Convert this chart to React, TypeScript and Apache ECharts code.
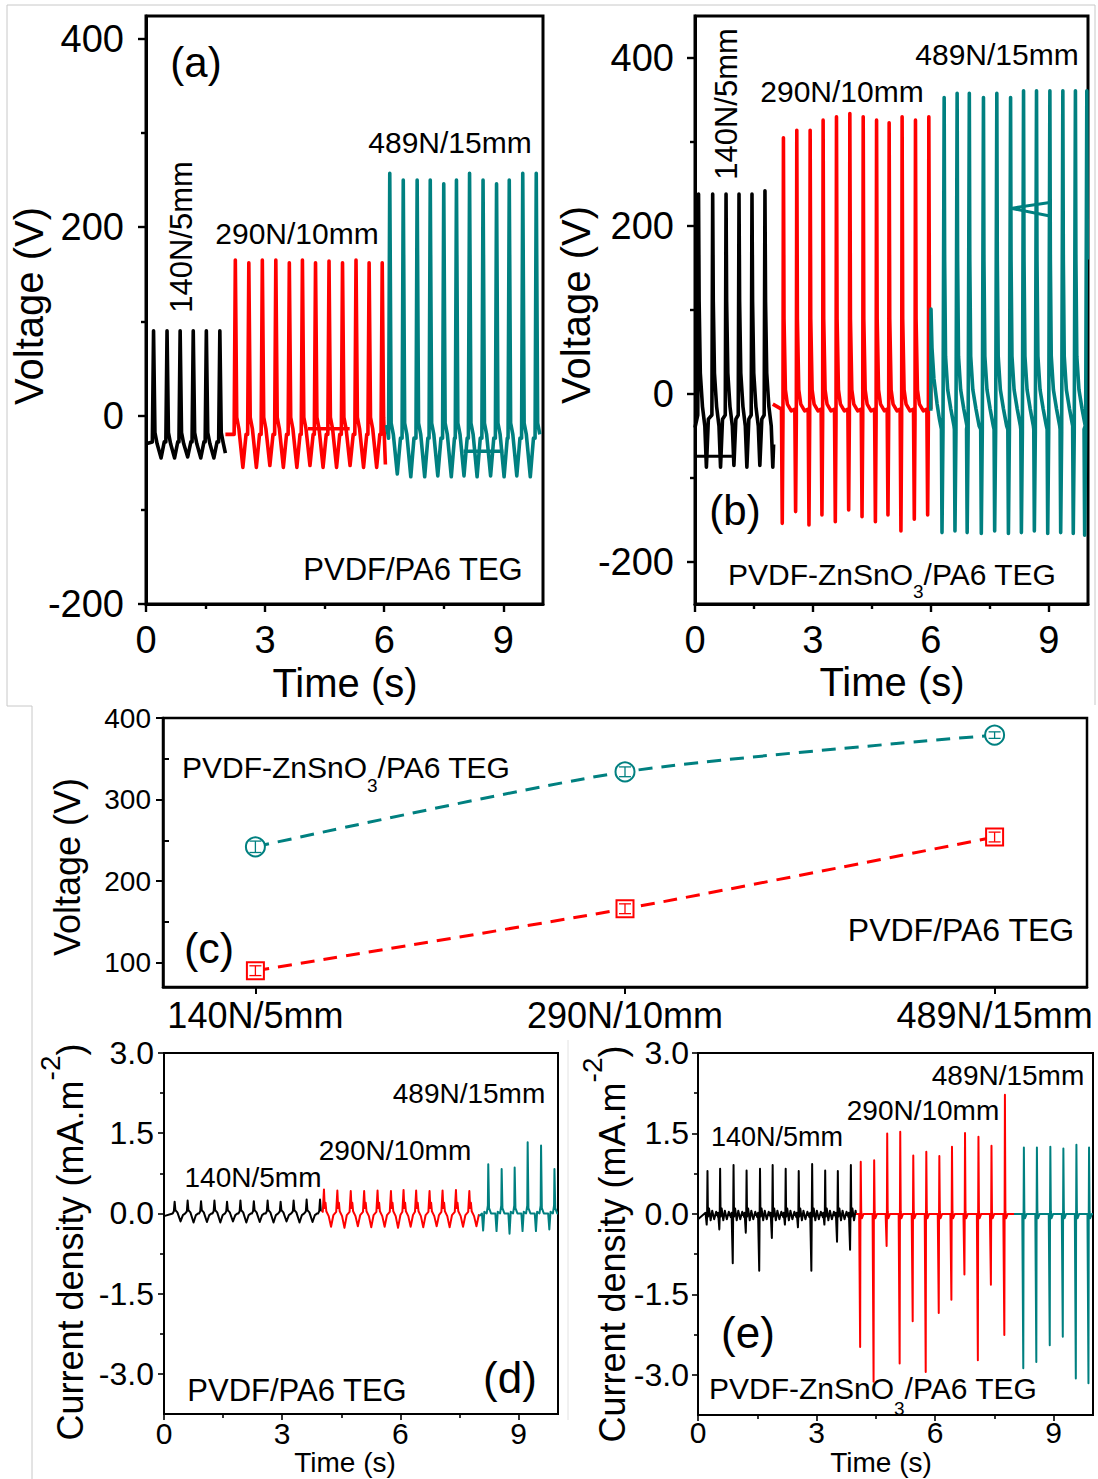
import React, { useEffect, useRef } from "react";
import * as echarts from "echarts";

type Pt = [number, number];

const FONT = '"Liberation Sans", Arial, Helvetica, sans-serif';
const BLACK = "#000000";
const RED = "#ff0000";
const TEAL = "#008080";

// ---------------- (a) PVDF/PA6 TEG, voltage ----------------
const aBlackPeakT = [0.19, 0.53, 0.86, 1.19, 1.52, 1.86];
const aBlackPeakV = [90, 90, 90, 90, 90, 90];
const aBlackValleyV = [-45, -45, -44, -45, -45, -44];
const aBlackBase = -28;
const aBlackKnee = -18;
const aRedPeakT = [2.25, 2.59, 2.93, 3.27, 3.61, 3.94, 4.27, 4.61, 4.95, 5.29, 5.62, 5.95];
const aRedPeakV = [165, 162, 165, 165, 162, 165, 162, 164, 162, 165, 162, 162];
const aRedValleyV = [-55, -55, -53, -55, -55, -53, -55, -55, -53, -55, -55, -53];
const aRedBase = -20;
const aRedKnee = -2;
const aTealPeakT = [6.14, 6.48, 6.83, 7.16, 7.5, 7.82, 8.15, 8.49, 8.83, 9.15, 9.49, 9.83];
const aTealPeakV = [257, 250, 250, 250, 246, 250, 257, 250, 246, 250, 257, 257];
const aTealValleyV = [-62, -65, -65, -64, -65, -64, -65, -64, -65, -64, -65, -64];
const aTealBase = -24;
const aTealKnee = -8;
const aRedStray: Pt[] = [[4.08, -14], [5.13, -14]];
const aTealStray: Pt[] = [[8.0, -38], [9.0, -38]];

// ---------------- (b) PVDF-ZnSnO3/PA6 TEG, voltage ----------------
const bBlackPeakT = [0.09, 0.45, 0.79, 1.12, 1.45, 1.78];
const bBlackPeakV = [238, 238, 238, 238, 238, 242];
const bBlackValleyV = [-87, -87, -85, -87, -85, -87];
const bRedPeakT = [2.25, 2.59, 2.93, 3.26, 3.6, 3.94, 4.28, 4.62, 4.94, 5.27, 5.61, 5.95];
const bRedPeakV = [305, 314, 314, 326, 330, 334, 330, 326, 323, 330, 326, 330];
const bRedValleyV = [-154, -140, -156, -144, -152, -138, -146, -152, -144, -163, -149, -144];
const bTealPeakT = [6.34, 6.67, 6.98, 7.34, 7.68, 8.03, 8.36, 8.69, 9.03, 9.36, 9.68, 9.97];
const bTealPeakV = [353, 358, 358, 353, 358, 353, 361, 361, 361, 361, 361, 361];
const bTealValleyV = [-165, -163, -165, -166, -163, -166, -165, -163, -166, -165, -166, -168];
const bTealOnset: Pt[] = [[6.0, -20], [6.005, 101], [6.03, 55], [6.08, 18], [6.16, -12], [6.22, -30]];
const bBlackStray: Pt[] = [[0.05, -74], [0.94, -74]];
const bTealStray: Pt[] = [[9.03, 228], [8.04, 221], [9.03, 212]];

// ---------------- (c) peak voltage vs. force/displacement ----------------
const cCategories = ["140N/5mm", "290N/10mm", "489N/15mm"];
const cZnSnO3 = [242, 334, 379];
const cZnSnO3Err = [7, 6, 4];
const cPVDF = [90, 166, 254];
const cPVDFErr = [6, 6, 6];

// ---------------- (d) PVDF/PA6 TEG, current density ----------------
const dBlackPeakT = [0.27, 0.6, 0.94, 1.28, 1.6, 1.94, 2.28, 2.63, 2.96, 3.29, 3.62, 3.96];
const dBlackPeakV = [0.22, 0.24, 0.23, 0.24, 0.22, 0.24, 0.23, 0.24, 0.22, 0.24, 0.26, 0.26];
const dBlackValleyV = [-0.15, -0.17, -0.16, -0.17, -0.15, -0.17, -0.16, -0.17, -0.15, -0.17, -0.16, -0.17];
const dRedPeakT = [4.06, 4.4, 4.74, 5.08, 5.42, 5.76, 6.08, 6.4, 6.74, 7.07, 7.41, 7.75];
const dRedPeakV = [0.45, 0.43, 0.42, 0.42, 0.43, 0.42, 0.44, 0.43, 0.42, 0.43, 0.44, 0.42];
const dRedValleyV = [-0.25, -0.27, -0.24, -0.26, -0.25, -0.27, -0.25, -0.26, -0.24, -0.26, -0.25, -0.24];
const dTealPeakT = [8.23, 8.57, 8.9, 9.23, 9.57, 9.91];
const dTealPeakV = [0.92, 0.83, 0.86, 1.33, 1.27, 0.83];
const dTealValleyV = [-0.32, -0.33, -0.38, -0.33, -0.33, -0.3];

// ---------------- (e) PVDF-ZnSnO3/PA6 TEG, current density ----------------
const eBlackPeakT = [0.24, 0.56, 0.9, 1.23, 1.57, 1.89, 2.22, 2.55, 2.89, 3.22, 3.54, 3.87];
const eBlackPeakV = [0.8, 0.84, 0.91, 0.81, 0.84, 0.91, 0.84, 0.8, 0.93, 0.81, 0.8, 0.91];
const eBlackNegV = [-0.2, -0.29, -0.92, -0.35, -1.06, -0.45, -0.2, -0.25, -1.06, -0.2, -0.52, -0.67];
const eRedPeakT = [4.12, 4.46, 4.79, 5.12, 5.45, 5.78, 6.11, 6.43, 6.76, 7.1, 7.43, 7.77];
const eRedPeakV = [0.97, 1.0, 1.5, 1.53, 1.09, 1.16, 1.08, 1.25, 1.51, 1.44, 1.27, 2.22];
const eRedNegV = [-2.48, -3.13, -0.6, -2.79, -2.0, -2.95, -1.85, -1.6, -1.13, -2.73, -1.32, -2.26];
const eTealPeakT = [8.25, 8.58, 8.92, 9.25, 9.58, 9.9];
const eTealPeakV = [1.24, 1.24, 1.25, 1.22, 1.29, 1.24];
const eTealNegV = [-2.88, -2.76, -2.45, -2.29, -3.07, -3.16];

// ---------------- axis ticks ----------------
const timeMajor = [0, 3, 6, 9];
const timeMinor = [1.5, 4.5, 7.5];
const voltMajor = [-200, 0, 200, 400];
const voltMinor = [-100, 100, 300];
const cVoltMajor = [100, 200, 300, 400];
const cVoltMinor = [150, 250, 350];
const curMajor = [-3, -1.5, 0, 1.5, 3];
const curMinor = [-2.25, -0.75, 0.75, 2.25];

// ---------------- helpers ----------------
function build(start: Pt[], peaksT: number[], cycle: (tp: number, i: number) => Pt[], tEnd: number, end: Pt[]): Pt[] {
  const pts: Pt[] = [...start];
  peaksT.forEach((tp, i) => {
    cycle(tp, i).forEach((p) => {
      if (p[0] <= tEnd) pts.push(p);
    });
  });
  return pts.concat(end);
}

let measureCtx: CanvasRenderingContext2D | null = null;
function textWidth(s: string, size: number): number {
  if (!measureCtx && typeof document !== "undefined") {
    measureCtx = document.createElement("canvas").getContext("2d");
  }
  if (!measureCtx) return s.length * size * 0.55;
  measureCtx.font = `${size}px "Liberation Sans"`;
  return measureCtx.measureText(s).width;
}

type Part = { t: string; size: number; dy: number };
function partsGroup(parts: Part[], x: number, y: number, align: "left" | "center", rotation = 0): any {
  const widths = parts.map((p) => textWidth(p.t, p.size));
  const total = widths.reduce((a, b) => a + b, 0);
  let cx = align === "center" ? -total / 2 : 0;
  const children = parts.map((p, i) => {
    const el = {
      type: "text",
      x: cx,
      y: p.dy,
      style: { text: p.t, font: `${p.size}px ${FONT}`, fill: "#000", align: "left", verticalAlign: "middle" },
    };
    cx += widths[i];
    return el;
  });
  return { type: "group", x, y, rotation, children };
}

function label(text: string, x: number, y: number, size: number, rotation = 0, align = "center"): any {
  return {
    type: "text",
    x,
    y,
    rotation,
    style: { text, font: `${size}px ${FONT}`, fill: "#000", align, verticalAlign: "middle" },
  };
}

type AxisSpec = {
  min: number;
  max: number;
  major: number[];
  minor: number[];
  font: number;
  margin: number;
  majorLen: number;
  minorLen: number;
  minorInside?: boolean;
  width: number;
  fmt?: (v: number) => string;
};

function axisPair(kind: "x" | "y", grid: number, s: AxisSpec): any[] {
  const position = kind === "x" ? "bottom" : "left";
  const common = {
    type: "value",
    gridIndex: grid,
    min: s.min,
    max: s.max,
    position,
    splitLine: { show: false },
    splitArea: { show: false },
    minorTick: { show: false },
  };
  const tickStyle = { color: "#000", width: Math.max(1.5, s.width * 0.8) };
  const major = {
    ...common,
    axisLine: { show: true, onZero: false, lineStyle: { color: "#000", width: s.width } },
    axisTick: { show: true, customValues: s.major, length: s.majorLen, inside: false, lineStyle: tickStyle },
    axisLabel: {
      show: true,
      customValues: s.major,
      fontSize: s.font,
      fontFamily: FONT,
      color: "#000",
      margin: s.margin,
      formatter: (v: number) => (s.fmt ? s.fmt(v) : String(v)),
    },
  };
  const minor = {
    ...common,
    axisLine: { show: false, onZero: false },
    axisTick: { show: true, customValues: s.minor, length: s.minorLen, inside: !!s.minorInside, lineStyle: tickStyle },
    axisLabel: { show: false },
  };
  return [major, minor];
}

function lineSeries(data: Pt[], color: string, width: number, panel: number): any {
  return {
    type: "line",
    xAxisIndex: panel * 2,
    yAxisIndex: panel * 2,
    data,
    showSymbol: false,
    symbol: "none",
    lineStyle: { color, width, join: "round" },
    itemStyle: { color },
    clip: true,
    silent: true,
    z: 2,
  };
}

// ---------------- traces ----------------
function aCycle(P: number[], V: number[], base: number, knee: number) {
  return (tp: number, i: number): Pt[] => [
    [tp - 0.03, base],
    [tp, P[i]],
    [tp + 0.035, knee],
    [tp + 0.09, knee - 12],
    [tp + 0.19, V[i]],
    [tp + 0.27, base],
  ];
}

function buildOption(): any {
  // (a)
  const aBlack = build([[0, -30]], aBlackPeakT, aCycle(aBlackPeakV, aBlackValleyV, aBlackBase, aBlackKnee), 2.0, [[2.0, -40]]);
  const aRed = build([[2.0, -20]], aRedPeakT, aCycle(aRedPeakV, aRedValleyV, aRedBase, aRedKnee), 6.03, [[6.03, -52]]);
  const aTeal = build([[6.06, -10]], aTealPeakT, aCycle(aTealPeakV, aTealValleyV, aTealBase, aTealKnee), 10.0, []);

  // (b)
  const bBlack = build(
    [[0, -40]],
    bBlackPeakT,
    (tp, i) => [
      [tp - 0.02, -25],
      [tp, bBlackPeakV[i]],
      [tp + 0.015, 110],
      [tp + 0.045, 25],
      [tp + 0.1, -15],
      [tp + 0.16, -38],
      [tp + 0.2, bBlackValleyV[i]],
      [tp + 0.25, -30],
    ],
    2.0,
    [[2.0, -60]]
  );
  const bRed = build(
    [[1.98, -12]],
    bRedPeakT,
    (tp, i) => [
      [tp - 0.05, -18],
      [tp - 0.03, bRedValleyV[i]],
      [tp - 0.012, -30],
      [tp, bRedPeakV[i]],
      [tp + 0.015, 90],
      [tp + 0.05, 5],
      [tp + 0.1, -12],
      [tp + 0.2, -20],
    ],
    6.0,
    [[6.0, -18]]
  );
  const bTeal = build(
    bTealOnset,
    bTealPeakT,
    (tp, i) => [
      [tp - 0.07, -42],
      [tp - 0.055, bTealValleyV[i]],
      [tp - 0.03, -45],
      [tp, bTealPeakV[i]],
      [tp + 0.012, 160],
      [tp + 0.035, 45],
      [tp + 0.09, 5],
      [tp + 0.17, -18],
      [tp + 0.25, -38],
    ],
    10.0,
    []
  );

  // (d)
  const dBlack = build(
    [[0, -0.05]],
    dBlackPeakT,
    (tp, i) => [
      [tp - 0.05, 0.0],
      [tp - 0.02, 0.04],
      [tp, dBlackPeakV[i]],
      [tp + 0.02, 0.06],
      [tp + 0.07, 0.02],
      [tp + 0.15, dBlackValleyV[i]],
      [tp + 0.21, -0.03],
      [tp + 0.27, 0.0],
    ],
    4.0,
    [[4.0, 0.05]]
  );
  const dRed = build(
    [[4.0, 0.05]],
    dRedPeakT,
    (tp, i) => [
      [tp - 0.03, 0.03],
      [tp, dRedPeakV[i]],
      [tp + 0.02, 0.1],
      [tp + 0.04, 0.2],
      [tp + 0.06, 0.04],
      [tp + 0.12, -0.05],
      [tp + 0.18, dRedValleyV[i]],
      [tp + 0.24, -0.03],
    ],
    8.0,
    [[8.0, -0.05]]
  );
  const dTeal = build(
    [[8.0, -0.05]],
    dTealPeakT,
    (tp, i) => [
      [tp - 0.16, 0.0],
      [tp - 0.13, dTealValleyV[i]],
      [tp - 0.1, 0.03],
      [tp - 0.04, 0.0],
      [tp - 0.01, 0.15],
      [tp, dTealPeakV[i]],
      [tp + 0.02, 0.1],
      [tp + 0.07, 0.0],
    ],
    10.0,
    [[10.0, 0.0]]
  );

  // (e)
  const eBlack = build(
    [[0, -0.1]],
    eBlackPeakT,
    (tp, i) => [
      [tp - 0.05, 0.02],
      [tp - 0.02, eBlackNegV[i]],
      [tp - 0.01, -0.05],
      [tp, eBlackPeakV[i]],
      [tp + 0.012, -0.05],
      [tp + 0.04, 0.1],
      [tp + 0.08, -0.12],
      [tp + 0.12, 0.06],
      [tp + 0.17, -0.1],
      [tp + 0.22, 0.04],
      [tp + 0.27, -0.06],
    ],
    4.0,
    [[4.0, 0.0]]
  );
  const spikeCycle = (P: number[], N: number[]) => (tp: number, i: number): Pt[] => [
    [tp - 0.04, 0.0],
    [tp - 0.015, N[i]],
    [tp - 0.008, -0.1],
    [tp, P[i]],
    [tp + 0.012, 0.05],
    [tp + 0.03, -0.08],
    [tp + 0.07, 0.0],
  ];
  const eRed = build([[4.0, 0.0]], eRedPeakT, spikeCycle(eRedPeakV, eRedNegV), 8.0, [[8.0, 0.0]]);
  const eTeal = build([[8.0, 0.0]], eTealPeakT, spikeCycle(eTealPeakV, eTealNegV), 10.0, [[10.0, 0.0]]);

  const grids = [
    { left: 146, top: 16, width: 397, height: 588, show: true, borderColor: "#000", borderWidth: 3, backgroundColor: "transparent" },
    { left: 695, top: 16, width: 393, height: 588, show: true, borderColor: "#000", borderWidth: 3, backgroundColor: "transparent" },
    { left: 163, top: 718, width: 924, height: 269, show: true, borderColor: "#000", borderWidth: 2.5, backgroundColor: "transparent" },
    { left: 164, top: 1053, width: 394, height: 361, show: true, borderColor: "#000", borderWidth: 2, backgroundColor: "transparent" },
    { left: 698, top: 1053, width: 395, height: 362, show: true, borderColor: "#000", borderWidth: 2, backgroundColor: "transparent" },
  ];

  const timeAxis = (margin: number, font: number, width: number, majorLen: number, minorLen: number): AxisSpec => ({
    min: 0,
    max: 10,
    major: timeMajor,
    minor: timeMinor,
    font,
    margin,
    majorLen,
    minorLen,
    width,
  });
  const curFmt = (v: number) => v.toFixed(1);

  const xAxis = [
    ...axisPair("x", 0, timeAxis(17, 38, 3, 8, 5)),
    ...axisPair("x", 1, timeAxis(17, 38, 3, 8, 5)),
    ...axisPair("x", 2, {
      min: 0.75,
      max: 3.25,
      major: [1, 2, 3],
      minor: [],
      font: 36,
      margin: 10,
      majorLen: 7,
      minorLen: 0,
      width: 2.5,
      fmt: (v: number) => cCategories[Math.round(v) - 1] || "",
    }),
    ...axisPair("x", 3, timeAxis(4, 30, 2, 6, 4)),
    ...axisPair("x", 4, timeAxis(2, 30, 2, 6, 4)),
  ];
  const yAxis = [
    ...axisPair("y", 0, { min: -200, max: 424, major: voltMajor, minor: voltMinor, font: 38, margin: 22, majorLen: 8, minorLen: 5, width: 3 }),
    ...axisPair("y", 1, { min: -250, max: 450, major: voltMajor, minor: voltMinor, font: 38, margin: 21, majorLen: 8, minorLen: 5, width: 3 }),
    ...axisPair("y", 2, { min: 70, max: 400, major: cVoltMajor, minor: cVoltMinor, font: 28, margin: 12, majorLen: 7, minorLen: 6, minorInside: true, width: 2.5 }),
    ...axisPair("y", 3, { min: -3.75, max: 3.0, major: curMajor, minor: curMinor, font: 32, margin: 10, majorLen: 6, minorLen: 4, width: 2, fmt: curFmt }),
    ...axisPair("y", 4, { min: -3.75, max: 3.0, major: curMajor, minor: curMinor, font: 32, margin: 9, majorLen: 6, minorLen: 4, width: 2, fmt: curFmt }),
  ];

  const errorBars = (vals: number[], errs: number[], color: string): any => ({
    type: "custom",
    xAxisIndex: 4,
    yAxisIndex: 4,
    z: 5,
    silent: true,
    data: vals.map((v, i) => [i + 1, v, errs[i]]),
    renderItem: (_params: any, api: any) => {
      const x = api.value(0);
      const y = api.value(1);
      const e = api.value(2);
      const top = api.coord([x, y + e]);
      const bot = api.coord([x, y - e]);
      const hw = 6;
      const st = { stroke: color, lineWidth: 1.3 };
      return {
        type: "group",
        children: [
          { type: "line", shape: { x1: top[0], y1: top[1], x2: bot[0], y2: bot[1] }, style: st },
          { type: "line", shape: { x1: top[0] - hw, y1: top[1], x2: top[0] + hw, y2: top[1] }, style: st },
          { type: "line", shape: { x1: bot[0] - hw, y1: bot[1], x2: bot[0] + hw, y2: bot[1] }, style: st },
        ],
      };
    },
  });

  const series = [
    lineSeries(aBlack, BLACK, 3.6, 0),
    lineSeries(aRed, RED, 3.6, 0),
    lineSeries(aTeal, TEAL, 3.6, 0),
    lineSeries(aRedStray, RED, 3.5, 0),
    lineSeries(aTealStray, TEAL, 3.5, 0),
    lineSeries(bBlack, BLACK, 3.6, 1),
    lineSeries(bRed, RED, 3.6, 1),
    lineSeries(bTeal, TEAL, 3.6, 1),
    lineSeries(bBlackStray, BLACK, 3, 1),
    lineSeries(bTealStray, TEAL, 3, 1),
    {
      type: "line",
      xAxisIndex: 4,
      yAxisIndex: 4,
      data: cZnSnO3.map((v, i) => [i + 1, v]),
      smooth: 0.25,
      symbol: "emptyCircle",
      symbolSize: 19,
      showSymbol: true,
      lineStyle: { color: TEAL, width: 3, type: [14, 9] },
      itemStyle: { color: TEAL, borderColor: TEAL, borderWidth: 1.5 },
      z: 3,
    },
    {
      type: "line",
      xAxisIndex: 4,
      yAxisIndex: 4,
      data: cPVDF.map((v, i) => [i + 1, v]),
      smooth: 0.25,
      symbol: "emptyRect",
      symbolSize: 17,
      showSymbol: true,
      lineStyle: { color: RED, width: 3, type: [14, 9] },
      itemStyle: { color: RED, borderColor: RED, borderWidth: 1.5 },
      z: 3,
    },
    errorBars(cZnSnO3, cZnSnO3Err, TEAL),
    errorBars(cPVDF, cPVDFErr, RED),
    lineSeries(dBlack, BLACK, 2, 3),
    lineSeries(dRed, RED, 2, 3),
    lineSeries(dTeal, TEAL, 2, 3),
    lineSeries(eBlack, BLACK, 2, 4),
    lineSeries(eRed, RED, 2, 4),
    lineSeries(eTeal, TEAL, 2, 4),
  ];

  const R90 = Math.PI / 2;
  const graphic: any[] = [
    // faint frame lines of the composed figure
    { type: "polyline", shape: { points: [[7, 706], [7, 5], [1095, 5], [1095, 705]] }, style: { stroke: "#c8c8c8", lineWidth: 1, fill: null }, silent: true, z: 0 },
    { type: "polyline", shape: { points: [[7, 706], [32, 706], [32, 1479]] }, style: { stroke: "#c8c8c8", lineWidth: 1, fill: null }, silent: true, z: 0 },
    { type: "line", shape: { x1: 568, y1: 1040, x2: 568, y2: 1420 }, style: { stroke: "#e2e2e2", lineWidth: 1 }, silent: true, z: 0 },

    // (a)
    label("Voltage (V)", 29, 306, 40, R90),
    label("Time (s)", 345, 683, 40),
    label("(a)", 196, 62, 42),
    label("140N/5mm", 181, 237, 31, R90),
    label("290N/10mm", 297, 233, 30),
    label("489N/15mm", 450, 142, 30),
    label("PVDF/PA6 TEG", 413, 569, 31),

    // (b)
    label("Voltage (V)", 576, 305, 40, R90),
    label("Time (s)", 892, 682, 40),
    label("(b)", 735, 510, 42),
    label("140N/5mm", 726, 104, 31, R90),
    label("290N/10mm", 842, 91, 30),
    label("489N/15mm", 997, 54, 30),
    partsGroup(
      [
        { t: "PVDF-ZnSnO", size: 30, dy: 0 },
        { t: "3", size: 19, dy: 17 },
        { t: "/PA6 TEG", size: 30, dy: 0 },
      ],
      728,
      574,
      "left"
    ),

    // (c)
    label("Voltage (V)", 67, 867, 36, R90),
    label("(c)", 209, 948, 43),
    partsGroup(
      [
        { t: "PVDF-ZnSnO", size: 30, dy: 0 },
        { t: "3", size: 19, dy: 18 },
        { t: "/PA6 TEG", size: 30, dy: 0 },
      ],
      182,
      767,
      "left"
    ),
    label("PVDF/PA6 TEG", 961, 930, 32),

    // (d)
    partsGroup(
      [
        { t: "Current density (mA.m", size: 36, dy: 0 },
        { t: "-2", size: 28, dy: -20 },
        { t: ")", size: 36, dy: 0 },
      ],
      70,
      1242,
      "center",
      R90
    ),
    label("Time (s)", 345, 1462, 28),
    label("140N/5mm", 253, 1177, 28),
    label("290N/10mm", 395, 1150, 28),
    label("489N/15mm", 469, 1093, 28),
    label("PVDF/PA6 TEG", 297, 1390, 31),
    label("(d)", 510, 1377, 44),

    // (e)
    partsGroup(
      [
        { t: "Current density (mA.m", size: 36, dy: 0 },
        { t: "-2", size: 28, dy: -20 },
        { t: ")", size: 36, dy: 0 },
      ],
      612,
      1244,
      "center",
      R90
    ),
    label("Time (s)", 881, 1462, 28),
    label("140N/5mm", 777, 1137, 27),
    label("290N/10mm", 923, 1110, 28),
    label("489N/15mm", 1008, 1075, 28),
    label("(e)", 748, 1332, 44),
    partsGroup(
      [
        { t: "PVDF-ZnSnO", size: 30, dy: 0 },
        { t: "3", size: 19, dy: 20 },
        { t: "/PA6 TEG", size: 30, dy: 0 },
      ],
      709,
      1388,
      "left"
    ),
  ];

  return {
    animation: false,
    backgroundColor: "#ffffff",
    textStyle: { fontFamily: FONT },
    grid: grids,
    xAxis,
    yAxis,
    series,
    graphic,
  };
}

export default function App() {
  const ref = useRef<HTMLDivElement>(null);
  useEffect(() => {
    if (!ref.current) return;
    const chart = echarts.init(ref.current, null, { renderer: "svg" });
    chart.setOption(buildOption());
    return () => {
      chart.dispose();
    };
  }, []);
  return (
    <div
      ref={ref}
      style={{ position: "absolute", left: 0, top: 0, width: 1098, height: 1479, background: "#fff" }}
    />
  );
}
